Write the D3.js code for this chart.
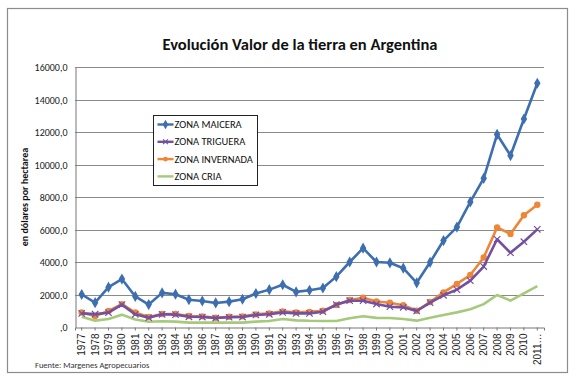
<!DOCTYPE html>
<html>
<head>
<meta charset="utf-8">
<script src="https://cdn.jsdelivr.net/npm/d3@7"></script>
<style>
  body { margin: 0; background: #fff; }
  svg { font-family: Carlito, Lato, "Open Sans", sans-serif; }
</style>
</head>
<body>
<svg id="chart" width="577" height="385"></svg>
<script>
// data
const years = ['1977','1978','1979','1980','1981','1982','1983','1984','1985','1986','1987','1988','1989','1990',
  '1991','1992','1993','1994','1995','1996','1997','1998','1999','2000','2001','2002','2003','2004','2005','2006',
  '2007','2008','2009','2010','2011'];

const maicera = [2000,1500,2450,2950,1880,1380,2100,2020,1680,1600,1480,1560,1710,2060,2300,2600,2160,2260,2400,
  3100,4000,4850,4000,3950,3620,2720,3980,5320,6150,7700,9150,11850,10550,12800,15000];
const triguera = [840,790,880,1380,780,570,780,760,630,615,550,600,615,740,780,900,840,840,940,1380,1620,1620,1410,
  1250,1210,985,1500,1950,2300,2850,3720,5400,4570,5250,6010];
const invernada = [890,680,985,1410,890,615,800,800,680,655,570,630,655,780,840,960,900,930,1000,1350,1660,1800,
  1570,1490,1340,1000,1540,2130,2650,3200,4280,6120,5730,6880,7520];
const cria = [630,390,490,760,460,320,350,330,270,270,270,270,270,330,370,490,410,380,370,370,540,660,560,550,490,
  390,570,740,900,1090,1410,1970,1620,2070,2520];

const yTicks = [0,2000,4000,6000,8000,10000,12000,14000,16000];

const series = [
  { name: 'ZONA MAICERA', values: maicera, color: '#3d6fb0', marker: 'diamond' },
  { name: 'ZONA TRIGUERA', values: triguera, color: '#7450a0', marker: 'cross' },
  { name: 'ZONA INVERNADA', values: invernada, color: '#ee8636', marker: 'circle' },
  { name: 'ZONA CRIA', values: cria, color: '#a7c97c', marker: null }
];

const svg = d3.select('#chart');
const plot = { left: 75, right: 544, top: 67, bottom: 327 };

// outer frame
svg.append('rect')
  .attr('x', 7.5).attr('y', 8.5).attr('width', 560).attr('height', 364)
  .attr('fill', '#fff').attr('stroke', '#8c8c8c').attr('stroke-width', 1.2);

svg.append('text')
  .attr('x', 300).attr('y', 50)
  .attr('text-anchor', 'middle')
  .attr('font-size', 16.5).attr('font-weight', 'bold').attr('fill', '#111')
  .text('Evolución Valor de la tierra en Argentina');

const x = d3.scaleBand().domain(years).range([plot.left, plot.right]);
const y = d3.scaleLinear().domain([0, 16000]).range([plot.bottom, plot.top]);
const fmt = v => v === 0 ? ',0' : v.toFixed(1).replace('.', ',');

// gridlines
svg.append('g')
  .selectAll('line')
  .data(yTicks.slice(1))
  .join('line')
  .attr('x1', plot.left).attr('x2', plot.right)
  .attr('y1', d => Math.round(y(d)) + 0.5).attr('y2', d => Math.round(y(d)) + 0.5)
  .attr('stroke', '#8a8a8a').attr('stroke-width', 1);

// y axis
const yAxis = svg.append('g')
  .attr('transform', `translate(${plot.left + 0.5},0.5)`)
  .call(d3.axisLeft(y).tickValues(yTicks).tickFormat(fmt).tickSize(0).tickPadding(8));
yAxis.select('.domain').attr('stroke', '#777');
yAxis.selectAll('text').attr('font-size', 10).attr('fill', '#222').attr('font-family', 'Carlito, Lato, sans-serif');

// x axis
const xAxis = svg.append('g')
  .attr('transform', `translate(0,${plot.bottom + 0.5})`)
  .call(d3.axisBottom(x).tickSize(3).tickFormat(d => d === '2011' ? '2011…' : d));
xAxis.select('.domain').attr('stroke', '#777');
xAxis.selectAll('line').attr('stroke', '#777');
xAxis.selectAll('text')
  .attr('font-size', 10).attr('fill', '#222')
  .attr('transform', 'rotate(-90)')
  .attr('text-anchor', 'end')
  .attr('x', -6).attr('y', 0).attr('dy', '0.35em');

svg.append('text')
  .attr('transform', `translate(28,${(plot.top + plot.bottom) / 2}) rotate(-90)`)
  .attr('text-anchor', 'middle')
  .attr('font-size', 10).attr('font-weight', 'bold').attr('fill', '#111')
  .text('en dólares por hectarea');

svg.append('text')
  .attr('x', 35).attr('y', 368)
  .attr('font-size', 8.5).attr('fill', '#333')
  .text('Fuente: Margenes Agropecuarios');

const line = d3.line()
  .x((d, i) => x(years[i]) + x.bandwidth() / 2)
  .y(d => y(d));

function drawMarker(g, type, color, size) {
  if (type === 'diamond') {
    g.append('path').attr('d', d3.symbol(d3.symbolDiamond, size * 9)()).attr('fill', color);
  } else if (type === 'circle') {
    g.append('circle').attr('r', size * 0.8).attr('fill', color);
  } else if (type === 'cross') {
    const s = size * 0.8;
    g.append('path').attr('d', `M${-s},${-s}L${s},${s}M${-s},${s}L${s},${-s}`)
      .attr('stroke', color).attr('stroke-width', 1.2);
  }
}

// draw in reverse so maicera sits on top
series.slice().reverse().forEach(s => {
  svg.append('path')
    .datum(s.values)
    .attr('d', line)
    .attr('fill', 'none')
    .attr('stroke', s.color)
    .attr('stroke-width', 2.6)
    .attr('stroke-linejoin', 'round');
  if (s.marker) {
    svg.append('g')
      .selectAll('g')
      .data(s.values)
      .join('g')
      .attr('transform', (d, i) => `translate(${x(years[i]) + x.bandwidth() / 2},${y(d)})`)
      .each(function () { drawMarker(d3.select(this), s.marker, s.color, 4); });
  }
});

// legend
const legend = svg.append('g').attr('transform', 'translate(153.5,115.5)');
legend.append('rect')
  .attr('width', 104).attr('height', 70)
  .attr('fill', '#fff').attr('stroke', '#222').attr('stroke-width', 1);
series.forEach((s, i) => {
  const row = legend.append('g').attr('transform', `translate(4,${9 + i * 17.3})`);
  row.append('line').attr('x1', 0).attr('x2', 16)
    .attr('stroke', s.color).attr('stroke-width', 2.4);
  if (s.marker) {
    const m = row.append('g').attr('transform', 'translate(8,0)');
    drawMarker(m, s.marker, s.color, 3);
  }
  row.append('text')
    .attr('x', 17).attr('dy', '0.35em')
    .attr('font-size', 10.5).attr('fill', '#111')
    .text(s.name);
});
</script>
</body>
</html>
